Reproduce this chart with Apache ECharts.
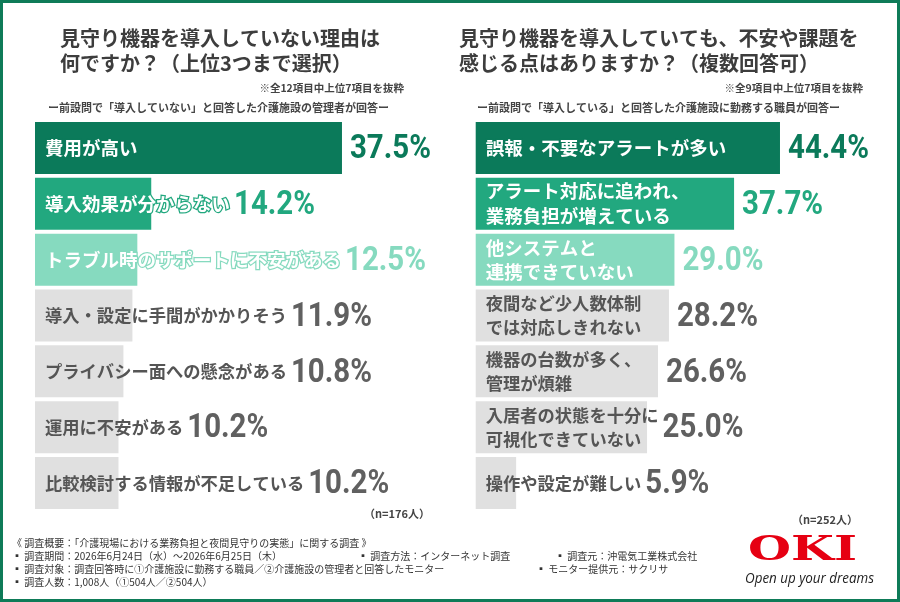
<!DOCTYPE html>
<html><head><meta charset="utf-8">
<script src="https://cdn.jsdelivr.net/npm/echarts@6/dist/echarts.min.js"></script>
<style>html,body{margin:0;padding:0;background:#fff}#c{width:900px;height:602px}</style>
</head><body><div id="c"></div>
<script>
// ---------- data ----------
const leftCategories = [
  '費用が高い',
  '導入効果が分からない',
  'トラブル時のサポートに不安がある',
  '導入・設定に手間がかかりそう',
  'プライバシー面への懸念がある',
  '運用に不安がある',
  '比較検討する情報が不足している'
];
const leftValues = [37.5, 14.2, 12.5, 11.9, 10.8, 10.2, 10.2];

const rightCategories = [
  '誤報・不要なアラートが多い',
  'アラート対応に追われ、\n業務負担が増えている',
  '他システムと\n連携できていない',
  '夜間など少人数体制\nでは対応しきれない',
  '機器の台数が多く、\n管理が煩雑',
  '入居者の状態を十分に\n可視化できていない',
  '操作や設定が難しい'
];
const rightValues = [44.4, 37.7, 29.0, 28.2, 26.6, 25.0, 5.9];

const leftTitleLines = ['見守り機器を導入していない理由は', '何ですか？（上位3つまで選択）'];
const rightTitleLines = ['見守り機器を導入していても、不安や課題を', '感じる点はありますか？（複数回答可）'];
const leftNote = '※全12項目中上位7項目を抜粋';
const rightNote = '※全9項目中上位7項目を抜粋';
const leftSub = 'ー前設問で「導入していない」と回答した介護施設の管理者が回答ー';
const rightSub = 'ー前設問で「導入している」と回答した介護施設に勤務する職員が回答ー';
const leftN = '（n=176人）';
const rightN = '（n=252人）';
const footerLines = [
  '《 調査概要：「介護現場における業務負担と夜間見守りの実態」に関する調査 》',
  '▪ 調査期間：2026年6月24日（水）～2026年6月25日（木）',
  '▪ 調査対象：調査回答時に①介護施設に勤務する職員／②介護施設の管理者と回答したモニター',
  '▪ 調査人数：1,008人（①504人／②504人）'
];
const footerCol2 = ['▪ 調査方法：インターネット調査', '▪ モニター提供元：サクリサ'];
const footerCol3 = ['▪ 調査元：沖電気工業株式会社'];
const logoText = 'OKI';
const sloganText = 'Open up your dreams';

// ---------- style ----------
const JP = '"Noto Sans CJK JP", "Noto Sans", sans-serif';
const NUM = 'Roboto, "Liberation Sans", sans-serif';
const barColors = ['#0b7a5a', '#22a87f', '#86dabf', '#e0e0e0', '#e0e0e0', '#e0e0e0', '#e0e0e0'];
const valColors = ['#0b7a5a', '#22a87f', '#86dabf', '#606060', '#606060', '#606060', '#606060'];
const labelColors = ['#fff', '#fff', '#fff', '#555', '#555', '#555', '#555'];
const labelSizes = [18.5, 18.5, 18.5, 17.3, 17.3, 17.3, 17.3];
const labelLineHeights = [25, 25, 24, 23.5, 23.5, 23.5, 23.5];
const LABEL_PAD = 10;
const VAL_SIZE = 33;

const mctx = document.createElement('canvas').getContext('2d');
function textWidth(str, font) {
  mctx.font = font;
  return Math.max(...str.split('\n').map(s => mctx.measureText(s).width));
}
const labelFont = i => `bold ${labelSizes[i]}px ${JP}`;
const valScale = 81 / textWidth('37.5%', `bold ${VAL_SIZE}px ${NUM}`);

function barData(values) {
  return values.map((v, i) => ({
    value: v,
    itemStyle: { color: barColors[i] },
    label: {
      color: labelColors[i],
      fontSize: labelSizes[i],
      lineHeight: labelLineHeights[i],
      textBorderColor: i < 3 ? barColors[i] : 'transparent',
      textBorderWidth: i < 3 ? 2.5 : 0
    }
  }));
}

function barSeries(idx, vals) {
  return {
    type: 'bar', xAxisIndex: idx, yAxisIndex: idx, barWidth: 52, silent: true,
    data: barData(vals),
    label: {
      show: true, position: 'insideLeft', distance: LABEL_PAD,
      formatter: p => (idx === 0 ? leftCategories : rightCategories)[p.dataIndex],
      fontFamily: JP, fontWeight: 'bold'
    }
  };
}

function valueSeries(idx, cats, vals) {
  return {
    type: 'custom', xAxisIndex: idx, yAxisIndex: idx, silent: true, z: 5,
    data: vals.map((v, i) => [v, i]), encode: { x: 0, y: 1 },
    renderItem: (params, api) => {
      const i = api.value(1), v = api.value(0);
      const end = api.coord([v, i]);
      const start = api.coord([0, i]);
      const tEnd = start[0] + LABEL_PAD + textWidth(cats[i], labelFont(i));
      const x = Math.max(end[0] + 8, tEnd + 4);
      return {
        type: 'text', x: x, y: end[1] + 2, scaleX: valScale,
        style: {
          text: v.toFixed(1) + '%', fontSize: VAL_SIZE, fontFamily: NUM, fontWeight: 'bold',
          fill: valColors[i], align: 'left', verticalAlign: 'middle'
        }
      };
    }
  };
}

function txt(x, y, text, size, opts) {
  opts = opts || {};
  return {
    type: 'text', x: x, y: y, silent: true, scaleX: opts.scaleX || 1,
    style: {
      text: text, fontSize: size, fontFamily: opts.family || JP,
      fontWeight: opts.weight || 'normal', fontStyle: opts.style || 'normal',
      fill: opts.color || '#333', align: opts.align || 'left', verticalAlign: 'middle'
    }
  };
}

const logoFont = 'bold 34px "DejaVu Serif"';
const logoScale = 109 / textWidth(logoText, logoFont);
const sloganFont = 'italic 14px "Open Sans"';
const sloganScale = 129 / textWidth(sloganText, sloganFont);

const graphics = [
  { type: 'rect', silent: true, shape: { x: 1.5, y: 1.5, width: 897, height: 599 },
    style: { fill: 'none', stroke: '#0e7b58', lineWidth: 3 } },
  txt(60, 38, leftTitleLines[0], 20, { weight: 'bold', color: '#3d3d3d' }),
  txt(60, 63, leftTitleLines[1], 20, { weight: 'bold', color: '#3d3d3d' }),
  txt(459, 38, rightTitleLines[0], 20, { weight: 'bold', color: '#3d3d3d' }),
  txt(459, 63, rightTitleLines[1], 20, { weight: 'bold', color: '#3d3d3d' }),
  txt(404, 88, leftNote, 10.5, { weight: 'bold', color: '#444', align: 'right' }),
  txt(863, 88, rightNote, 10.5, { weight: 'bold', color: '#444', align: 'right' }),
  txt(48, 108, leftSub, 11, { weight: 'bold', color: '#444' }),
  txt(477, 108, rightSub, 11, { weight: 'bold', color: '#444' }),
  txt(430, 514, leftN, 11, { weight: 'bold', color: '#444', align: 'right' }),
  txt(858, 520, rightN, 11, { weight: 'bold', color: '#444', align: 'right' }),
  txt(748, 551, logoText, 34, { family: '"DejaVu Serif"', weight: 'bold', color: '#e60012', scaleX: logoScale }),
  txt(745, 579, sloganText, 14, { family: '"Open Sans"', style: 'italic', color: '#222', scaleX: sloganScale })
];
footerLines.forEach((l, i) => graphics.push(txt(12, 543 + i * 13.2, l, 10, { color: '#333' })));
footerCol2.forEach((l, i) => graphics.push(txt(i === 0 ? 358 : 536, 556 + i * 13.2, l, 10, { color: '#333' })));
footerCol3.forEach((l, i) => graphics.push(txt(555, 556 + i * 13.2, l, 10, { color: '#333' })));

const chart = echarts.init(document.getElementById('c'), null, { renderer: 'canvas' });
chart.setOption({
  animation: false,
  backgroundColor: '#fff',
  grid: [
    { left: 35, top: 120, width: 409.3, height: 391 },
    { left: 475.7, top: 120, width: 411.2, height: 391 }
  ],
  xAxis: [
    { type: 'value', gridIndex: 0, min: 0, max: 50, show: false },
    { type: 'value', gridIndex: 1, min: 0, max: 60, show: false }
  ],
  yAxis: [
    { type: 'category', gridIndex: 0, data: leftCategories, inverse: true, show: false },
    { type: 'category', gridIndex: 1, data: rightCategories, inverse: true, show: false }
  ],
  series: [
    barSeries(0, leftValues),
    barSeries(1, rightValues),
    valueSeries(0, leftCategories, leftValues),
    valueSeries(1, rightCategories, rightValues)
  ],
  graphic: graphics
});
</script>
</body></html>
